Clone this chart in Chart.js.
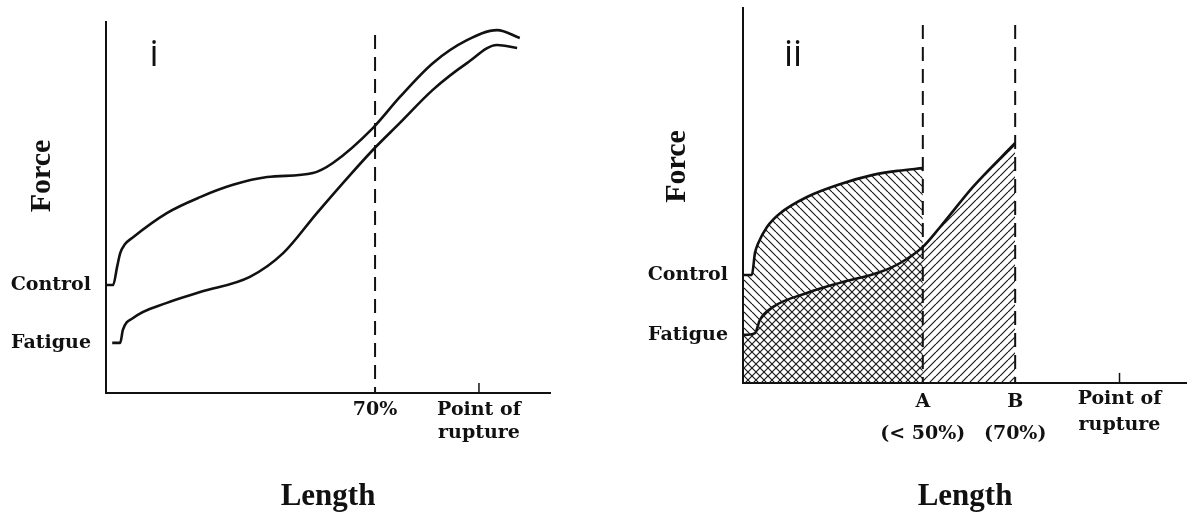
<!DOCTYPE html>
<html>
<head>
<meta charset="utf-8">
<script src="https://cdn.jsdelivr.net/npm/chart.js@4"></script>
<style>
  body { margin: 0; background: #fff; width: 1187px; height: 516px; position: relative; overflow: hidden; }
  canvas { position: absolute; top: 0; }
  #c1 { left: 0; }
  #c2 { left: 600px; }
</style>
</head>
<body>
<canvas id="c1" width="590" height="516"></canvas>
<canvas id="c2" width="587" height="516"></canvas>
<script>
// panel i : length (0-100) vs force (0-100)
const lenCtrlI   = [0, 1.6, 2.5, 3.2, 4.2, 6.1, 13.7, 21.2, 28.6, 36.3, 46.6, 51.1, 60.1, 66.2, 73.6, 81.3, 88.1, 93.2];
const forceCtrlI = [29.1, 29.1, 34.0, 37.7, 40.0, 42.0, 48.5, 52.8, 56.1, 58.2, 59.3, 62.0, 71.4, 79.8, 88.9, 95.1, 97.8, 95.7];
const lenFatI    = [1.4, 3.2, 3.8, 6.1, 13.7, 21.2, 32.4, 39.9, 47.5, 55.0, 60.1, 66.2, 73.6, 81.3, 88.1, 92.6];
const forceFatI  = [13.5, 13.5, 17.0, 20.2, 24.3, 27.2, 31.3, 37.7, 48.5, 58.8, 65.5, 72.8, 81.7, 88.9, 93.8, 93.0];
const markI = 60.6;      // 70%
const ruptureI = 84.0;
const tickPosI = [markI, ruptureI];
const tickLabelsI = ['70%', ['Point of', 'rupture']];

// panel ii
const lenCtrlII   = [0, 2.0, 2.7, 3.4, 5.4, 8.3, 14.4, 21.8, 29.3, 35.0, 40.5];
const forceCtrlII = [28.8, 28.8, 34.7, 37.2, 41.6, 45.2, 49.6, 53.0, 55.5, 56.6, 57.3];
const lenFatII    = [0, 2.7, 3.8, 6.8, 14.4, 21.8, 30.9, 35.4, 40.5, 44.4, 51.8, 61.3];
const forceFatII  = [12.8, 13.3, 16.8, 20.3, 24.0, 26.7, 29.6, 32.0, 36.3, 41.6, 52.3, 64.0];
const markA = 40.5;
const markB = 61.3;
const ruptureII = 84.8;
const tickPosII = [markA, markB, ruptureII];
const tickLabelsII = [['A', '(< 50%)'], ['B', '(70%)'], ['Point of', 'rupture']];

const yLabels = ['Control', 'Fatigue'];

const INK = '#111';

function hatch(dir) {
  const c = document.createElement('canvas');
  c.width = c.height = 8;
  const g = c.getContext('2d');
  g.strokeStyle = '#1a1a1a';
  g.lineWidth = 1.2;
  g.beginPath();
  for (let k = -1; k <= 1; k++) {
    if (dir === 'down') { g.moveTo(k * 8, 0); g.lineTo(k * 8 + 8, 8); }
    else { g.moveTo(k * 8, 8); g.lineTo(k * 8 + 8, 0); }
  }
  g.stroke();
  return g.createPattern(c, 'repeat');
}

// free text: panel number and the rotated "Force"
const textPlugin = {
  id: 'freeText',
  afterDraw(chart, args, opts) {
    const ctx = chart.ctx;
    opts.items.forEach(it => {
      ctx.save();
      ctx.fillStyle = INK;
      ctx.font = it.font;
      ctx.textAlign = 'center';
      ctx.textBaseline = it.baseline || 'middle';
      ctx.translate(it.x, it.y);
      if (it.rot) ctx.rotate(it.rot);
      ctx.fillText(it.text, 0, 0);
      ctx.restore();
    });
  }
};

const pts = (xs, ys) => xs.map((x, i) => ({ x, y: ys[i] }));

function curve(xs, ys, pattern) {
  return {
    data: pts(xs, ys), borderColor: INK, borderWidth: 2.6, pointRadius: 0,
    cubicInterpolationMode: 'monotone',
    fill: pattern ? 'origin' : false,
    backgroundColor: pattern || 'transparent'
  };
}
function dashed(x, top) {
  return { data: [{ x, y: top }, { x, y: 0 }], borderColor: INK, borderWidth: 2, borderDash: [14, 8], pointRadius: 0, fill: false };
}
function tickMark(x) {
  return { data: [{ x, y: 0 }, { x, y: 2.7 }], borderColor: INK, borderWidth: 1.5, pointRadius: 0, fill: false };
}

const tickFont = { family: 'DejaVu Serif', size: 19, weight: 'bold', lineHeight: 23 / 19 };
const titleFont = { family: 'Liberation Serif', size: 31, weight: 'bold' };

function scales(tickPos, tickLabels, yTicks, xHeight, yWidth, xFont) {
  return {
    x: {
      type: 'linear', min: 0, max: 100,
      grid: { display: false, drawTicks: false },
      border: { color: INK, width: 2 },
      afterBuildTicks: s => { s.ticks = tickPos.map(v => ({ value: v })); },
      afterFit: s => { s.height = xHeight; s.paddingLeft = 0; s.paddingRight = 0; },
      ticks: { autoSkip: false, maxRotation: 0, padding: xFont.padding, color: INK, font: xFont.font,
               callback: (v, i) => tickLabels[i] },
      title: { display: true, text: 'Length', color: INK, font: titleFont, padding: { top: 0, bottom: 0 } }
    },
    y: {
      type: 'linear', min: 0, max: 100,
      grid: { display: false, drawTicks: false },
      border: { color: INK, width: 2 },
      afterBuildTicks: s => { s.ticks = yTicks.map(v => ({ value: v })); },
      afterFit: s => { s.width = yWidth; s.paddingTop = 0; s.paddingBottom = 0; },
      ticks: { padding: 15, color: INK, font: tickFont, callback: (v, i) => yLabels[i] }
    }
  };
}

const common = {
  responsive: false, animation: false, devicePixelRatio: 1,
  events: []
};

new Chart(document.getElementById('c1'), {
  type: 'line',
  data: {
    datasets: [
      curve(lenCtrlI, forceCtrlI),
      curve(lenFatI, forceFatI),
      dashed(markI, 96.5),
      tickMark(ruptureI)
    ]
  },
  options: Object.assign({}, common, {
    layout: { padding: { top: 22, right: 40, left: 0, bottom: 0 } },
    scales: scales(tickPosI, tickLabelsI, [forceCtrlI[0], forceFatI[0]], 123, 106,
                   { padding: 5.5, font: tickFont }),
    plugins: {
      legend: { display: false }, tooltip: { enabled: false },
      freeText: { items: [
        { text: 'i', x: 154, y: 66, baseline: 'alphabetic', font: '36px "Open Sans"' },
        { text: 'Force', x: 42, y: 176, rot: -Math.PI / 2, font: 'bold 30px "Liberation Serif"' }
      ] }
    }
  }),
  plugins: [textPlugin]
});

new Chart(document.getElementById('c2'), {
  type: 'line',
  data: {
    datasets: [
      curve(lenCtrlII, forceCtrlII, hatch('down')),
      curve(lenFatII, forceFatII, hatch('up')),
      dashed(markA, 95.5),
      dashed(markB, 95.5),
      tickMark(ruptureII)
    ]
  },
  options: Object.assign({}, common, {
    layout: { padding: { top: 8, right: 0, left: 0, bottom: 0 } },
    scales: scales(tickPosII, tickLabelsII, [forceCtrlII[0], forceFatII[0]], 133, 143,
                   { padding: 3, font: ctx => Object.assign({}, tickFont, { lineHeight: (ctx.index === 2 ? 26 : 32) / 19 }) }),
    plugins: {
      legend: { display: false }, tooltip: { enabled: false },
      freeText: { items: [
        { text: 'ii', x: 193, y: 66, baseline: 'alphabetic', font: '36px "Open Sans"' },
        { text: 'Force', x: 77.5, y: 166.5, rot: -Math.PI / 2, font: 'bold 30px "Liberation Serif"' }
      ] }
    }
  }),
  plugins: [textPlugin]
});
</script>
</body>
</html>
